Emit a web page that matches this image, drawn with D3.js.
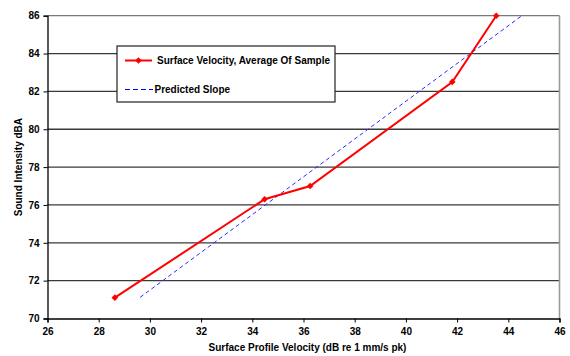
<!DOCTYPE html>
<html><head><meta charset="utf-8">
<script src="https://cdn.jsdelivr.net/npm/d3@7"></script>
<style>
body{margin:0;background:#fff;}
text{font-family:"Liberation Sans",Arial,sans-serif;font-weight:bold;}
</style></head>
<body>
<svg id="c" width="570" height="356"></svg>
<script>
const measuredX = [28.63, 34.48, 36.26, 41.81, 43.53];
const measuredY = [71.1, 76.3, 77.0, 82.5, 86.0];
const predictedX = [29.62, 44.53];
const predictedY = [71.12, 86.0];
const xTicks = [26, 28, 30, 32, 34, 36, 38, 40, 42, 44, 46];
const yTicks = [70, 72, 74, 76, 78, 80, 82, 84, 86];
const seriesNames = ["Surface Velocity, Average Of Sample", "Predicted Slope"];
const xTitle = "Surface Profile Velocity (dB re 1 mm/s pk)";
const yTitle = "Sound Intensity dBA";

const svg = d3.select("#c");
const L = 47.5, R = 559.5, T = 15.7, B = 318.5;
const x = d3.scaleLinear().domain([26, 46]).range([L, R]);
const y = d3.scaleLinear().domain([70, 86]).range([B, T]);

// gridlines
svg.append("g").selectAll("line").data(yTicks.filter(v => v > 70)).join("line")
  .attr("x1", L).attr("x2", R).attr("y1", d => y(d)).attr("y2", d => y(d))
  .attr("stroke", d => d === 86 ? "#7a7a7a" : "#3a3a3a").attr("stroke-width", 1.3);
// right border
svg.append("line").attr("x1", R).attr("x2", R).attr("y1", T).attr("y2", B)
  .attr("stroke", "#9a9a9a").attr("stroke-width", 1.6);

// axes
const xAxis = d3.axisBottom(x).tickValues(xTicks).tickSize(4).tickFormat(d3.format("d"));
const gx = svg.append("g").attr("transform", `translate(0,${B})`).call(xAxis);
gx.select(".domain").attr("stroke", "#000").attr("stroke-width", 1.3);
gx.selectAll(".tick line").attr("stroke", "#000");
gx.selectAll("text").attr("font-size", 10).attr("fill", "#000").attr("dy", "0.95em");

const yAxis = d3.axisLeft(y).tickValues(yTicks).tickSize(4).tickFormat(d3.format("d"));
const gy = svg.append("g").attr("transform", `translate(${L},0)`).call(yAxis);
gy.select(".domain").attr("stroke", "#000").attr("stroke-width", 1.3);
gy.selectAll(".tick line").attr("stroke", "#000");
gy.selectAll("text").attr("font-size", 10).attr("fill", "#000").attr("x", -8);

// titles
svg.append("text").attr("x", (L + R) / 2 + 4).attr("y", 351).attr("text-anchor", "middle")
  .attr("font-size", 10).text(xTitle);
svg.append("text").attr("transform", `translate(21.5,${(T + B) / 2}) rotate(-90)`)
  .attr("text-anchor", "middle").attr("font-size", 10).text(yTitle);

// predicted line
const pts2 = predictedX.map((v, i) => [v, predictedY[i]]);
const line = d3.line().x(d => x(d[0])).y(d => y(d[1]));
svg.append("path").attr("d", line(pts2)).attr("fill", "none")
  .attr("stroke", "#2a2aff").attr("stroke-width", 1).attr("stroke-dasharray", "4,3");

// measured
const pts = measuredX.map((v, i) => [v, measuredY[i]]);
svg.append("path").attr("d", line(pts)).attr("fill", "none")
  .attr("stroke", "#ff0000").attr("stroke-width", 2);
const diamond = d3.symbol().type(d3.symbolSquare).size(22);
svg.append("g").selectAll("path").data(pts).join("path")
  .attr("d", diamond).attr("transform", d => `translate(${x(d[0])},${y(d[1])}) rotate(45)`)
  .attr("fill", "#ff0000");

// legend
const lg = svg.append("g");
lg.append("rect").attr("x", 117).attr("y", 46).attr("width", 218).attr("height", 56)
  .attr("fill", "#fff").attr("stroke", "#222").attr("stroke-width", 1.2);
lg.append("line").attr("x1", 125).attr("x2", 152).attr("y1", 60.5).attr("y2", 60.5)
  .attr("stroke", "#ff0000").attr("stroke-width", 2);
lg.append("path").attr("d", diamond).attr("transform", "translate(138.5,60.5) rotate(45)").attr("fill", "#ff0000");
lg.append("text").attr("x", 157).attr("y", 64).attr("font-size", 10).text(seriesNames[0]);
lg.append("line").attr("x1", 125).attr("x2", 153).attr("y1", 89.5).attr("y2", 89.5)
  .attr("stroke", "#0000ff").attr("stroke-width", 1).attr("stroke-dasharray", "5,3");
lg.append("text").attr("x", 154.5).attr("y", 93).attr("font-size", 10).text(seriesNames[1]);
</script>
</body></html>
